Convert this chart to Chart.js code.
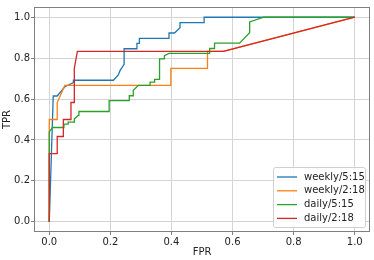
<!DOCTYPE html>
<html lang="en">
  <head>
    <meta charset="UTF-8" />
    <title>ROC</title>
    <style>
      html, body { margin: 0; padding: 0; background: #fff; }
      #wrap { width: 374px; height: 260px; }
    </style>
  </head>
  <body>
    <div id="wrap"><canvas id="roc"></canvas></div>

    <script src="https://cdn.jsdelivr.net/npm/chart.js@4"></script>
    <script>
      // series labels and colours
      const labels = ["weekly/5:15", "weekly/2:18", "daily/5:15", "daily/2:18"];
      const colors = ["#1f77b4", "#ff7f0e", "#2ca02c", "#d62728"];

      // weekly/5:15
      const weekly515Fpr = [0, 0.013, 0.026, 0.051, 0.079, 0.079, 0.21, 0.226, 0.232, 0.245, 0.245, 0.287, 0.287, 0.295, 0.295, 0.392, 0.392, 0.41, 0.428, 0.428, 0.507, 0.507, 1.0];
      const weekly515Tpr = [0, 0.615, 0.615, 0.66, 0.68, 0.692, 0.692, 0.718, 0.74, 0.77, 0.846, 0.846, 0.872, 0.872, 0.897, 0.897, 0.923, 0.923, 0.949, 0.974, 0.974, 1.0, 1.0];

      // weekly/2:18
      const weekly218Fpr = [0, 0, 0.026, 0.026, 0.051, 0.398, 0.398, 0.518, 0.518, 0.57, 1.0];
      const weekly218Tpr = [0, 0.5, 0.5, 0.583, 0.667, 0.667, 0.75, 0.75, 0.833, 0.833, 1.0];

      // daily/5:15
      const daily515Fpr = [0, 0, 0.011, 0.048, 0.048, 0.062, 0.062, 0.082, 0.082, 0.095, 0.097, 0.196, 0.196, 0.262, 0.262, 0.275, 0.275, 0.292, 0.33, 0.33, 0.345, 0.345, 0.361, 0.361, 0.377, 0.377, 0.392, 0.525, 0.525, 0.541, 0.541, 0.623, 0.656, 0.656, 0.702, 1.0];
      const daily515Tpr = [0, 0.439, 0.461, 0.461, 0.477, 0.477, 0.487, 0.487, 0.503, 0.52, 0.539, 0.539, 0.592, 0.592, 0.616, 0.616, 0.643, 0.667, 0.667, 0.683, 0.683, 0.696, 0.696, 0.796, 0.796, 0.812, 0.823, 0.823, 0.847, 0.847, 0.873, 0.873, 0.924, 0.977, 1.0, 1.0];

      // daily/2:18
      const daily218Fpr = [0, 0, 0.026, 0.026, 0.046, 0.046, 0.071, 0.071, 0.082, 0.082, 0.092, 0.57, 1.0];
      const daily218Tpr = [0, 0.333, 0.333, 0.417, 0.417, 0.5, 0.5, 0.583, 0.583, 0.75, 0.833, 0.833, 1.0];

      const tickValues = [0, 0.2, 0.4, 0.6, 0.8, 1.0];

      const fprs = [weekly515Fpr, weekly218Fpr, daily515Fpr, daily218Fpr];
      const tprs = [weekly515Tpr, weekly218Tpr, daily515Tpr, daily218Tpr];

      const FONT = "'DejaVu Sans', sans-serif";
      const SPINE = "#7f7f7f";
      const GRID = "#d4d4d4";

      function pts(xs, ys) {
        return xs.map((x, i) => ({ x: x, y: ys[i] }));
      }

      const datasets = labels.map((name, i) => ({
        label: name,
        data: pts(fprs[i], tprs[i]),
        borderColor: colors[i],
        backgroundColor: colors[i],
        borderWidth: 1.3,
        showLine: true,
        pointRadius: 0,
        tension: 0,
        // matplotlib draws later series on top
        order: labels.length - i,
      }));

      // frame on all four sides + legend inside lower right
      const frame = {
        id: "frame",
        afterDraw(chart) {
          const c = chart.ctx;
          const a = chart.chartArea;
          c.save();
          c.strokeStyle = SPINE;
          c.lineWidth = 1;
          c.strokeRect(a.left + 0.5, a.top + 0.5, a.right - a.left - 1, a.bottom - a.top - 1);

          // legend box
          const bx = 273, by = 167, bw = 92, bh = 60;
          c.fillStyle = "rgba(255,255,255,0.85)";
          c.strokeStyle = "#d0d0d0";
          c.beginPath();
          c.roundRect(bx + 0.5, by + 0.5, bw, bh, 2);
          c.fill();
          c.stroke();
          c.font = "10px " + FONT;
          c.textBaseline = "middle";
          c.textAlign = "left";
          labels.forEach((name, i) => {
            const yy = by + 10 + i * 13.8;
            c.strokeStyle = colors[i];
            c.lineWidth = 1.3;
            c.beginPath();
            c.moveTo(bx + 4, yy);
            c.lineTo(bx + 24, yy);
            c.stroke();
            c.fillStyle = "#222";
            c.fillText(name, bx + 31, yy);
          });
          c.restore();
        },
      };

      const ctx = document.getElementById("roc").getContext("2d");
      new Chart(ctx, {
        type: "scatter",
        data: { datasets: datasets },
        plugins: [frame],
        options: {
          responsive: true,
          maintainAspectRatio: false,
          animation: false,
          layout: { padding: { top: 3, right: 4, left: 0, bottom: 0 } },
          plugins: {
            legend: { display: false },
            tooltip: { enabled: false },
          },
          scales: {
            x: {
              type: "linear",
              min: -0.05,
              max: 1.05,
              afterBuildTicks: (s) => { s.ticks = tickValues.map((v) => ({ value: v })); },
              afterFit: (s) => { s.height = 28; },
              ticks: {
                color: "#222",
                font: { family: FONT, size: 10 },
                padding: 1,
                maxRotation: 0,
                callback: (v) => v.toFixed(1),
              },
              grid: { color: GRID, tickColor: SPINE, tickLength: 3 },
              border: { display: false },
              title: {
                display: true,
                text: "FPR",
                color: "#222",
                font: { family: FONT, size: 10 },
                padding: { top: 0, bottom: 2 },
              },
            },
            y: {
              type: "linear",
              min: -0.05,
              max: 1.05,
              afterBuildTicks: (s) => { s.ticks = tickValues.map((v) => ({ value: v })); },
              afterFit: (s) => { s.width = 34; },
              ticks: {
                color: "#222",
                font: { family: FONT, size: 10 },
                padding: 1,
                callback: (v) => v.toFixed(1),
              },
              grid: { color: GRID, tickColor: SPINE, tickLength: 3 },
              border: { display: false },
              title: {
                display: true,
                text: "TPR",
                color: "#222",
                font: { family: FONT, size: 10 },
                padding: { top: 1, bottom: 0 },
              },
            },
          },
        },
      });
    </script>
  </body>
</html>
